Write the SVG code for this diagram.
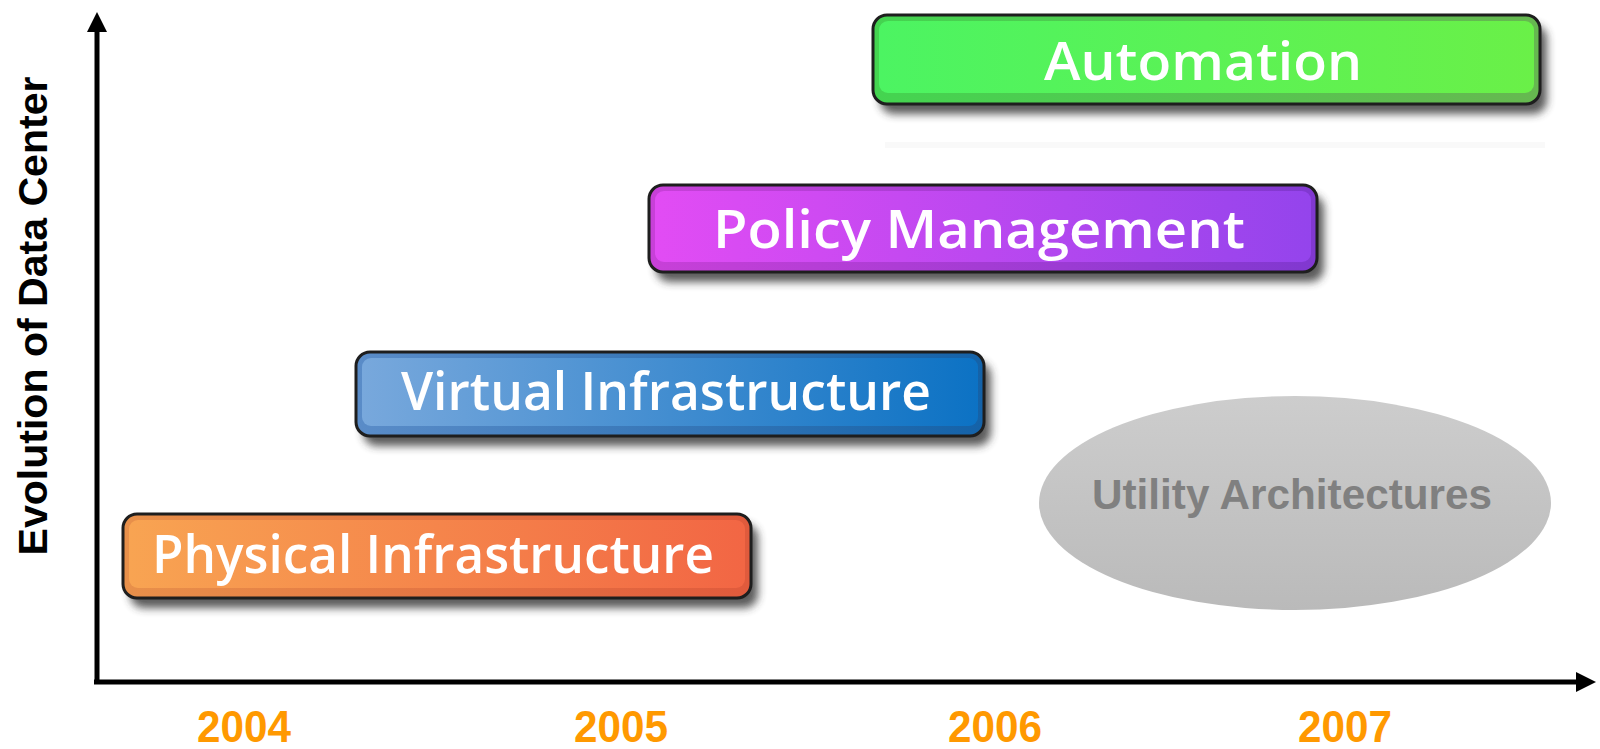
<svg xmlns="http://www.w3.org/2000/svg" width="1600" height="749" viewBox="0 0 1600 749">
<defs>
<filter id="shadow" x="-10%" y="-30%" width="120%" height="170%">
<feGaussianBlur stdDeviation="4"/>
</filter>
<linearGradient id="gGreenO" x1="0" x2="1" y1="0" y2="0"><stop offset="0" stop-color="#44d450"/><stop offset="1" stop-color="#66b850"/></linearGradient>
<linearGradient id="gGreenI" x1="0" x2="1" y1="0" y2="0"><stop offset="0" stop-color="#4cf462"/><stop offset="1" stop-color="#6af048"/></linearGradient>
<linearGradient id="gPurpO" x1="0" x2="1" y1="0" y2="0"><stop offset="0" stop-color="#c840d8"/><stop offset="1" stop-color="#8038d0"/></linearGradient>
<linearGradient id="gPurpI" x1="0" x2="1" y1="0" y2="0"><stop offset="0" stop-color="#e24cf4"/><stop offset="1" stop-color="#9444ec"/></linearGradient>
<linearGradient id="gBlueO" x1="0" x2="1" y1="0" y2="0"><stop offset="0" stop-color="#5a8cc8"/><stop offset="1" stop-color="#1462a8"/></linearGradient>
<linearGradient id="gBlueI" x1="0" x2="1" y1="0" y2="0"><stop offset="0" stop-color="#78a8dc"/><stop offset="1" stop-color="#0c72c4"/></linearGradient>
<linearGradient id="gOrO" x1="0" x2="1" y1="0" y2="0"><stop offset="0" stop-color="#e8904a"/><stop offset="1" stop-color="#e05a3c"/></linearGradient>
<linearGradient id="gOrI" x1="0" x2="1" y1="0" y2="0"><stop offset="0" stop-color="#f8a452"/><stop offset="1" stop-color="#f26644"/></linearGradient>
<linearGradient id="gGray" x1="0" x2="0" y1="0" y2="1"><stop offset="0" stop-color="#cdcdcd"/><stop offset="1" stop-color="#bababa"/></linearGradient>
<marker id="arrow" viewBox="0 0 10 10" refX="5" refY="5" markerWidth="4" markerHeight="4" orient="auto" markerUnits="strokeWidth">
<path d="M0,0 L10,5 L0,10 z" fill="#000"/>
</marker>
</defs>
<style>
.sh{fill:#333;opacity:0.8;filter:url(#shadow)}
.outer{stroke:#1e1e1e;stroke-width:3}
.lbl{font-family:"Open Sans","Liberation Sans",sans-serif;font-weight:600;fill:#ffffff;font-size:52px;text-anchor:middle}
.year{font-family:"Liberation Sans",Arial,sans-serif;font-weight:bold;fill:#ff9900;font-size:45px;text-anchor:middle}
</style>
<rect width="1600" height="749" fill="#ffffff"/>

<g id="connectors">
<line x1="97" y1="684" x2="97" y2="22" stroke="#000" stroke-width="5" marker-end="url(#arrow)"/>
<line x1="94" y1="682" x2="1586" y2="682" stroke="#000" stroke-width="5" marker-end="url(#arrow)"/>
</g>

<g id="automation">
<rect class="sh" x="880" y="25" width="667" height="89" rx="14"/>
<rect x="885" y="142" width="660" height="6" fill="#f4f4f4" opacity="0.5"/>
<rect class="outer" x="873" y="15" width="667" height="89" rx="14" fill="url(#gGreenO)"/>
<rect x="879" y="21" width="655" height="72" rx="9" fill="url(#gGreenI)"/>
<text class="lbl" x="1203" y="80" textLength="318" lengthAdjust="spacingAndGlyphs">Automation</text>
</g>

<g id="policy-management">
<rect class="sh" x="656" y="195" width="668" height="87" rx="14"/>
<rect class="outer" x="649" y="185" width="668" height="87" rx="14" fill="url(#gPurpO)"/>
<rect x="655" y="191" width="656" height="71" rx="9" fill="url(#gPurpI)"/>
<text class="lbl" x="979" y="248" textLength="532" lengthAdjust="spacingAndGlyphs">Policy Management</text>
</g>

<g id="virtual-infrastructure">
<rect class="sh" x="363" y="362" width="628" height="84" rx="14"/>
<rect class="outer" x="356" y="352" width="628" height="84" rx="14" fill="url(#gBlueO)"/>
<rect x="362" y="358" width="616" height="68" rx="9" fill="url(#gBlueI)"/>
<text class="lbl" x="666" y="410" textLength="530" lengthAdjust="spacingAndGlyphs">Virtual Infrastructure</text>
</g>

<g id="physical-infrastructure">
<rect class="sh" x="130" y="524" width="628" height="84" rx="14"/>
<rect class="outer" x="123" y="514" width="628" height="84" rx="14" fill="url(#gOrO)"/>
<rect x="129" y="520" width="616" height="68" rx="9" fill="url(#gOrI)"/>
<text class="lbl" x="433" y="573" textLength="562" lengthAdjust="spacingAndGlyphs">Physical Infrastructure</text>
</g>

<g id="utility-architectures">
<ellipse cx="1295" cy="503" rx="256" ry="107" fill="url(#gGray)"/>
<text x="1292" y="509" font-family="Liberation Sans, Arial, sans-serif" font-weight="bold" font-size="42" fill="#808080" text-anchor="middle" textLength="400" lengthAdjust="spacingAndGlyphs">Utility Architectures</text>
</g>

<g id="y-label">
<text transform="translate(47,316) rotate(-90)" font-family="Liberation Sans, Arial, sans-serif" font-weight="bold" font-size="41" fill="#000" text-anchor="middle" textLength="479" lengthAdjust="spacingAndGlyphs">Evolution of Data Center</text>
</g>

<g id="years">
<text class="year" x="244" y="742" textLength="94" lengthAdjust="spacingAndGlyphs">2004</text>
<text class="year" x="621" y="742" textLength="94" lengthAdjust="spacingAndGlyphs">2005</text>
<text class="year" x="995" y="742" textLength="94" lengthAdjust="spacingAndGlyphs">2006</text>
<text class="year" x="1345" y="742" textLength="94" lengthAdjust="spacingAndGlyphs">2007</text>
</g>
</svg>
